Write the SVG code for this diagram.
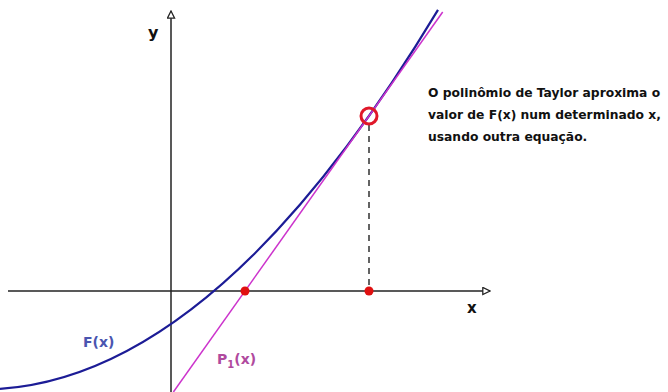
<svg xmlns="http://www.w3.org/2000/svg" width="668" height="392" viewBox="0 0 668 392">
<defs>
<marker id="arr" viewBox="0 0 10 10" refX="9" refY="5" markerWidth="9" markerHeight="9" markerUnits="userSpaceOnUse" orient="auto">
<path d="M1,1 L9,5 L1,9 Z" fill="#fff" stroke="#222" stroke-width="1.4"/>
</marker>
</defs>
<style>
.axis{stroke:#222;stroke-width:1.5;fill:none}
.lbl{font-family:"DejaVu Sans",sans-serif;font-weight:bold}
.note{font-family:"DejaVu Sans",sans-serif;font-weight:bold;font-size:12.3px;fill:#111}
.dot{fill:#e01010}
</style>
<rect width="668" height="392" fill="#fff"/>
<g id="axes">
<line class="axis" x1="8" y1="291" x2="490" y2="291" marker-end="url(#arr)"/>
<line class="axis" x1="171" y1="392" x2="171" y2="11" marker-end="url(#arr)"/>
<text class="lbl" x="148" y="38" font-size="16" fill="#111">y</text>
<text class="lbl" x="467" y="313" font-size="15" fill="#111">x</text>
</g>
<g id="connectors">
<path id="Fx-curve" d="M0,388.9 Q219,374 438,9.9" fill="none" stroke="#1c1c96" stroke-width="2.2"/>
<line id="P1-line" x1="173.4" y1="392" x2="442.7" y2="12" stroke="#cc33cc" stroke-width="1.5"/>
<line id="dash" x1="369" y1="125" x2="369" y2="291" stroke="#222" stroke-width="1.4" stroke-dasharray="6,5"/>
</g>
<g id="tangent-point">
<circle cx="369" cy="116" r="8" fill="none" stroke="#e0182a" stroke-width="3"/>
</g>
<g id="root-P1"><circle class="dot" cx="245" cy="291" r="4.5"/></g>
<g id="x-point"><circle class="dot" cx="369" cy="291" r="4.5"/></g>
<g id="label-F">
<text class="lbl" x="83" y="347" font-size="14" fill="#4a55b0">F(x)</text>
</g>
<g id="label-P1">
<text class="lbl" x="217" y="364" font-size="14" fill="#b04a9e">P<tspan font-size="10" dy="4">1</tspan><tspan dy="-4">(x)</tspan></text>
</g>
<g id="note">
<text class="note" x="428" y="97">O polinômio de Taylor aproxima o</text>
<text class="note" x="428" y="119">valor de F(x) num determinado x,</text>
<text class="note" x="428" y="141">usando outra equação.</text>
</g>
</svg>
